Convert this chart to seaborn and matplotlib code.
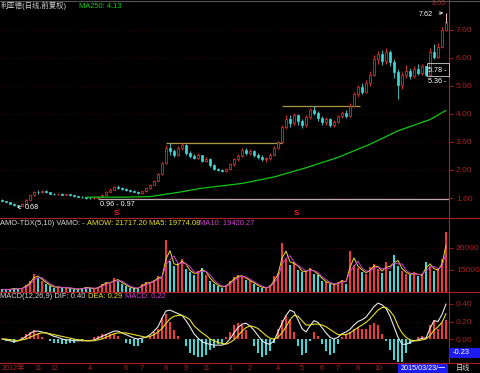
import numpy as np
import pandas as pd
import matplotlib
matplotlib.use("Agg")
import matplotlib.pyplot as plt
import matplotlib.transforms as mtrans
from matplotlib.lines import Line2D
from matplotlib.patches import Rectangle
import seaborn as sns

# ---------------- data ----------------
opens = [0.92,0.90,0.86,0.80,0.74,0.72,0.80,0.94,1.10,1.22,
         1.20,1.25,1.20,1.16,1.14,1.16,1.12,1.13,1.10,1.06,
         1.04,1.02,1.00,0.99,1.01,1.05,1.12,1.22,1.30,1.40,
         1.36,1.32,1.28,1.26,1.22,1.18,1.24,1.34,1.48,1.62,
         1.85,2.25,2.80,2.68,2.55,2.80,2.88,2.62,2.50,2.42,
         2.52,2.32,2.40,2.18,2.05,2.00,1.96,2.02,2.20,2.38,
         2.50,2.72,2.62,2.68,2.55,2.45,2.38,2.42,2.55,2.80,
         3.00,3.55,3.82,3.68,3.95,3.75,3.60,3.88,4.15,4.05,
         3.85,3.70,3.82,3.62,3.72,3.92,4.05,3.92,4.30,4.70,
         4.95,4.80,5.10,5.40,5.95,6.15,5.90,6.20,5.85,5.50,
         5.05,5.40,5.55,5.35,5.60,5.45,5.70,5.40,6.20,6.05,
         6.40,7.00]
closes = [0.90,0.86,0.80,0.74,0.72,0.80,0.94,1.10,1.22,1.20,
          1.25,1.20,1.16,1.14,1.16,1.12,1.13,1.10,1.06,1.04,
          1.02,1.00,0.99,1.01,1.05,1.12,1.22,1.30,1.40,1.36,
          1.32,1.28,1.26,1.22,1.18,1.24,1.34,1.48,1.62,1.85,
          2.25,2.80,2.68,2.55,2.80,2.88,2.62,2.50,2.42,2.52,
          2.32,2.40,2.18,2.05,2.00,1.96,2.02,2.20,2.38,2.50,
          2.72,2.62,2.68,2.55,2.45,2.38,2.42,2.55,2.80,3.00,
          3.55,3.82,3.68,3.95,3.75,3.60,3.88,4.15,4.05,3.85,
          3.70,3.82,3.62,3.72,3.92,4.05,3.92,4.30,4.70,4.95,
          4.80,5.10,5.40,5.95,6.15,5.90,6.20,5.85,5.50,5.05,
          5.40,5.55,5.35,5.60,5.45,5.70,5.40,6.20,6.05,6.40,
          7.00,7.30]
highs = [0.95,0.91,0.87,0.81,0.76,0.82,0.96,1.12,1.26,1.28,
         1.28,1.27,1.22,1.18,1.18,1.18,1.16,1.14,1.11,1.08,
         1.06,1.04,1.02,1.03,1.07,1.14,1.25,1.34,1.44,1.47,
         1.38,1.34,1.30,1.28,1.24,1.26,1.36,1.50,1.65,1.88,
         2.30,2.90,2.95,2.75,2.85,2.96,2.92,2.68,2.58,2.60,
         2.55,2.48,2.42,2.20,2.08,2.04,2.06,2.24,2.42,2.58,
         2.78,2.80,2.75,2.72,2.60,2.52,2.48,2.62,2.85,3.05,
         3.62,3.95,3.98,4.05,4.00,3.82,3.95,4.22,4.29,4.10,
         3.92,3.90,3.86,3.80,3.98,4.12,4.15,4.40,4.80,5.05,
         5.10,5.20,5.55,6.10,6.25,6.30,6.35,6.28,5.95,5.60,
         5.50,5.75,5.65,5.70,5.78,5.78,5.72,6.35,6.50,6.55,
         7.10,7.62]
lows = [0.88,0.84,0.78,0.72,0.68,0.71,0.79,0.93,1.08,1.16,
        1.18,1.17,1.14,1.12,1.12,1.10,1.10,1.08,1.04,1.02,
        1.00,0.98,0.97,0.96,0.99,1.04,1.10,1.20,1.28,1.33,
        1.28,1.25,1.23,1.20,1.16,1.16,1.22,1.32,1.45,1.60,
        1.82,2.20,2.55,2.45,2.50,2.70,2.55,2.42,2.38,2.38,
        2.28,2.28,2.10,2.00,1.95,1.92,1.92,2.00,2.15,2.33,
        2.45,2.55,2.55,2.48,2.40,2.32,2.30,2.36,2.50,2.75,
        2.95,3.45,3.55,3.60,3.62,3.50,3.55,3.82,3.95,3.75,
        3.60,3.62,3.52,3.55,3.68,3.85,3.85,3.90,4.25,4.60,
        4.70,4.75,5.00,5.35,5.80,5.75,5.80,5.70,5.30,4.55,
        4.90,5.30,5.25,5.28,5.40,5.40,5.36,5.38,5.95,6.00,
        6.35,6.95]
amount = [10600,10500,10700,10800,10600,11000,11600,12500,14000,13200,
          12600,11800,11300,11000,11200,10900,11000,10800,10700,10600,
          10900,11100,10800,10700,11200,11800,12300,11900,13200,12400,
          11900,11300,10900,10800,10900,11800,12200,12100,12800,13600,
          13200,21800,17000,15800,16500,17500,15200,14600,13900,14800,
          15400,13800,12600,11800,11300,11000,11600,12600,13300,13800,
          13600,12800,12400,11800,11200,11000,10900,11500,13600,14300,
          21100,17500,16200,16800,15000,14500,14800,15400,14200,13800,
          12500,12200,11800,11600,12300,12800,11900,19300,16200,15500,
          14600,14200,15600,16300,15200,14300,16900,14800,18400,15900,
          14800,14200,13800,14500,13600,14000,16900,15900,14700,15200,
          17600,23600]
dif = [0.00,-0.01,-0.02,-0.03,-0.02,0.00,0.03,0.06,0.09,0.09,
       0.08,0.07,0.05,0.03,0.02,0.00,-0.01,-0.01,-0.02,-0.02,
       -0.02,-0.02,-0.02,-0.01,0.01,0.03,0.05,0.07,0.09,0.09,
       0.07,0.05,0.03,0.01,0.00,0.01,0.02,0.05,0.09,0.14,
       0.24,0.32,0.33,0.31,0.29,0.27,0.21,0.14,0.06,0.01,
       -0.03,-0.05,-0.06,-0.07,-0.07,-0.07,-0.05,0.00,0.07,0.13,
       0.17,0.18,0.15,0.10,0.04,-0.02,-0.05,-0.06,-0.02,0.08,
       0.18,0.27,0.33,0.31,0.22,0.12,0.08,0.15,0.21,0.19,
       0.13,0.07,0.02,0.00,0.02,0.06,0.08,0.11,0.16,0.20,
       0.22,0.25,0.31,0.37,0.41,0.39,0.35,0.26,0.14,0.02,
       -0.06,-0.06,-0.04,-0.02,-0.01,0.01,0.01,0.12,0.21,0.20,
       0.28,0.40]
dea = [0.00,0.00,-0.01,-0.01,-0.02,-0.01,0.00,0.02,0.04,0.06,
       0.07,0.07,0.06,0.05,0.04,0.03,0.02,0.01,0.00,-0.01,
       -0.01,-0.02,-0.02,-0.02,-0.01,0.00,0.02,0.04,0.06,0.07,
       0.07,0.07,0.06,0.05,0.04,0.03,0.02,0.03,0.05,0.08,
       0.12,0.18,0.23,0.26,0.27,0.27,0.25,0.22,0.15,0.11,
       0.07,0.04,0.00,-0.02,-0.04,-0.05,-0.06,-0.04,-0.01,0.04,
       0.09,0.13,0.15,0.14,0.12,0.08,0.04,0.01,0.00,0.02,
       0.07,0.14,0.22,0.27,0.26,0.21,0.16,0.16,0.17,0.17,
       0.16,0.14,0.11,0.08,0.05,0.05,0.05,0.07,0.10,0.13,
       0.16,0.19,0.23,0.28,0.33,0.36,0.36,0.32,0.26,0.15,
       0.07,0.02,-0.01,-0.02,-0.02,-0.01,0.00,0.04,0.10,0.14,
       0.19,0.29]
ma250_idx = [21, 30, 37, 44, 50, 60, 68, 76, 84, 92, 99, 107, 111]
ma250_val = [1.03, 1.03, 1.05, 1.20, 1.35, 1.52, 1.75, 2.08, 2.45, 2.92, 3.40, 3.80, 4.13]
res_level = [2.96, 4.29]
res_start = [41, 70]
res_end = [70, 89.5]
support_level = 0.97
support_start = 24
price_ticks = [1, 2, 3, 4, 5, 6, 7]
amount_ticks = [15000, 20000]
macd_ticks = [0.0, 0.2, 0.4]
date_idx = [0, 9, 13, 22, 31, 35, 41, 46, 51, 57, 62, 69, 75, 80, 84, 89, 94]
date_lab = ["2012年", "11", "12", "4", "6", "7", "8", "9", "11", "1", "2", "4", "5", "6", "7", "8", "10"]

# ---------------- style ----------------
sns.set_style("dark", {"axes.facecolor": "black", "figure.facecolor": "black"})
plt.rcParams['font.family'] = ['Liberation Sans', 'Noto Sans CJK SC', 'DejaVu Sans']
plt.rcParams['axes.unicode_minus'] = False

RED = '#f03a3a'
CYAN = '#3fd8d8'
AXRED = '#b02020'
W, H = 480, 373

fig = plt.figure(figsize=(4.8, 3.73), dpi=100, facecolor='black')
PW = 449 / W

def fbox(top, bot):
    return [0, 1 - bot / H, PW, (bot - top) / H]

ax_main = fig.add_axes(fbox(0, 218))
ax_vol = fig.add_axes(fbox(218, 292))
ax_macd = fig.add_axes(fbox(292, 363))

n = len(closes)
xs = np.arange(n)
up = np.array(closes) >= np.array(opens)
cols = [RED if u else CYAN for u in up]

# ---- candles ----
for i in xs:
    o, c, h, l = opens[i], closes[i], highs[i], lows[i]
    col = cols[i]
    ax_main.vlines(i, l, h, color=col, lw=0.6, zorder=2)
    b = min(o, c)
    hh = max(abs(c - o), 0.012)
    ax_main.add_patch(Rectangle((i - 0.33, b), 0.66, hh,
                                facecolor='black' if up[i] else col,
                                edgecolor=col, lw=0.5, zorder=3))

sns.lineplot(x=ma250_idx, y=ma250_val, ax=ax_main, color='#10c810', lw=0.9, zorder=4)
for lv, s0, s1 in zip(res_level, res_start, res_end):
    ax_main.hlines(lv, s0, s1, color='#a8983a', lw=0.9, zorder=1)
ax_main.hlines(support_level, support_start, n - 0.25, color='#b8a8b0', lw=0.9, zorder=1)

ax_main.set_xlim(-0.5, n - 0.25)
ax_main.set_ylim(0.286, 8.07)

# annotations on price
ax_main.annotate("7.62", xy=(n - 1, 7.62), xytext=(104.2, 7.56), color='white', fontsize=5.2,
                 va='center', ha='left',
                 arrowprops=dict(arrowstyle='->', color='white', lw=0.5))
ax_main.vlines(n - 1 + 0.05, 7.25, 7.62, color='white', lw=0.5, zorder=5)
ax_main.annotate("0.68", xy=(3.8, 0.66), xytext=(5.8, 0.66), color='white', fontsize=5.2,
                 va='center', ha='left',
                 arrowprops=dict(arrowstyle='->', color='white', lw=0.5))
ax_main.text(24.5, 0.76, "0.96 - 0.97", color='white', fontsize=5.2, va='center', ha='left')
ax_main.add_patch(Rectangle((106.2, 5.36), n - 0.3 - 106.2, 0.46, facecolor='none',
                            edgecolor='#d0d0d0', lw=0.6, zorder=5, clip_on=False))
ax_main.text(106.5, 5.55, "5.78 -", color='white', fontsize=5.2, va='center', ha='left')
ax_main.text(106.5, 5.16, "5.36 -", color='white', fontsize=5.2, va='center', ha='left')
ax_main.text(107.5, 7.95, "8.00", color=AXRED, fontsize=5.2, va='center', ha='left')

# ---- amount ----
ax_vol.bar(xs, amount, width=0.55, color=cols, linewidth=0)
amt = pd.Series(amount, dtype=float)
sns.lineplot(x=xs, y=amt.rolling(2, min_periods=1).mean().values, ax=ax_vol, color='#e8e020', lw=0.7)
sns.lineplot(x=xs, y=amt.rolling(3, min_periods=1).mean().values, ax=ax_vol, color='#d040d0', lw=0.7)
ax_vol.set_xlim(-0.5, n - 0.25)
ax_vol.set_ylim(10000, 26818)

# ---- MACD ----
hist = 2 * (np.array(dif) - np.array(dea))
ax_macd.bar(xs, hist, width=0.38, color=[RED if h >= 0 else CYAN for h in hist], linewidth=0)
sns.lineplot(x=xs, y=dif, ax=ax_macd, color='#e8e8e8', lw=0.8)
sns.lineplot(x=xs, y=dea, ax=ax_macd, color='#e8e020', lw=0.8)
ax_macd.set_xlim(-0.5, n - 0.25)
ax_macd.set_ylim(-0.274, 0.537)

# ---- axes styling ----
for ax, ticks, fmt in [(ax_main, price_ticks, "{:.2f}"), (ax_vol, amount_ticks, "{:.0f}"),
                       (ax_macd, macd_ticks, "{:.2f}")]:
    ax.set_facecolor('black')
    for s in ['top', 'left', 'bottom']:
        ax.spines[s].set_visible(False)
    ax.spines['right'].set_color(AXRED)
    ax.spines['right'].set_linewidth(0.8)
    ax.yaxis.tick_right()
    ax.set_yticks(ticks)
    ax.set_yticklabels([fmt.format(t) for t in ticks])
    ax.tick_params(axis='y', colors=AXRED, labelcolor=AXRED, labelsize=6, length=3,
                   width=0.6, pad=2, direction='out')
    ax.set_xticks([])
    ax.xaxis.grid(False)
    ax.yaxis.grid(True, color='#4a0c0c', linestyle=(0, (1, 2)), lw=0.5)
    ax.set_xlabel('')
    ax.set_ylabel('')

# separators
for py in [218, 292, 363]:
    fig.add_artist(Line2D([0, 1], [1 - py / H] * 2, color=AXRED, lw=0.8))
fig.add_artist(Line2D([0, 1], [1 - 0.5 / H] * 2, color='#555555', lw=0.8))


def ptext(px, py, s, color, size=5.4, **kw):
    fig.text(px / W, 1 - py / H, s, color=color, fontsize=size, va='center', **kw)

ptext(1, 6, "利亚德(日线,前复权)", '#d8d8d8', 5.3)
ptext(79, 6, "MA250: 4.13", '#10d010')
ptext(0, 224, "AMO-TDX(5,10) VAMO: -", '#d8d8d8')
ptext(87, 224, "AMOW: 21717.20", '#e8e020')
ptext(149, 224, "MA5: 19774.08", '#e8e020')
ptext(199, 224, "MA10: 19420.27", '#d040d0')
ptext(0, 297, "MACD(12,26,9) DIF: 0.40", '#d8d8d8')
ptext(88, 297, "DEA: 0.29", '#e8e020')
ptext(125, 297, "MACD: 0.22", '#d040d0')
ptext(114, 213, "S", '#f02020', 5.8, fontweight='bold')
ptext(294, 213, "S", '#f02020', 5.8, fontweight='bold')

# date labels
trans = mtrans.blended_transform_factory(ax_macd.transData, ax_macd.transAxes)
for di, dl in zip(date_idx, date_lab):
    ax_macd.text(di, -0.075, dl, transform=trans, color=AXRED, fontsize=5.2, va='center',
                 ha='left' if di == 0 else 'center', clip_on=False)

fig.add_artist(Rectangle((449 / W, 1 - 358 / H), 31 / W, 10 / H, transform=fig.transFigure,
                         facecolor='#1c1cf0', edgecolor='none'))
ptext(453, 353, "-0.23", 'white')
fig.add_artist(Rectangle((398 / W, 0), 50 / W, 9.5 / H, transform=fig.transFigure,
                         facecolor='#1c1cf0', edgecolor='none'))
ptext(423, 368.5, "2015/03/23/一", 'white', 5.2, ha='center')
ptext(456, 368.5, "日线", '#d8d8d8', 5.2)

fig.savefig("out.png", dpi=100, facecolor='black')
